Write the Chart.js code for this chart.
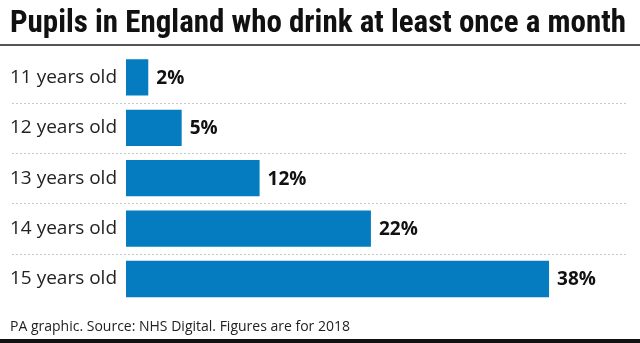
<!DOCTYPE html>
<html>
<head>
<meta charset="utf-8">
<script src="https://cdn.jsdelivr.net/npm/chart.js@4/dist/chart.umd.min.js"></script>
<style>
  html, body { margin: 0; padding: 0; background: #fff; }
  #wrap { width: 640px; height: 343px; position: relative; }
</style>
</head>
<body>
<div id="wrap"><canvas id="c" width="640" height="343"></canvas></div>
<script>
// Share of pupils drinking at least once a month, by age (2018)
const categories = ['11 years old', '12 years old', '13 years old', '14 years old', '15 years old'];
const values = [2, 5, 12, 22, 38];
const valueLabels = ['2%', '5%', '12%', '22%', '38%'];
const titleText = 'Pupils in England who drink at least once a month';
const footerText = 'PA graphic. Source: NHS Digital. Figures are for 2018';

const BLUE = '#047cbf';

// Rules under the title, above the footer edge, and dotted separators between rows
const decorations = {
  id: 'decorations',
  afterDraw(chart) {
    const ctx = chart.ctx;
    const y = chart.scales.y;
    const area = chart.chartArea;
    ctx.save();
    // title underline
    ctx.fillStyle = '#555';
    ctx.fillRect(0, 44, 640, 2);
    // bottom edge rule
    ctx.fillStyle = '#111';
    ctx.fillRect(0, 339, 640, 4);
    // dotted separators between categories
    ctx.strokeStyle = '#c8c8c8';
    ctx.lineWidth = 1;
    ctx.setLineDash([2, 2]);
    for (let i = 0; i < categories.length - 1; i++) {
      const yy = Math.round((y.getPixelForValue(i) + y.getPixelForValue(i + 1)) / 2) + 0.5;
      ctx.beginPath();
      ctx.moveTo(12, yy);
      ctx.lineTo(area.right, yy);
      ctx.stroke();
    }
    ctx.setLineDash([]);
    // value labels at the end of each bar
    const meta = chart.getDatasetMeta(0);
    ctx.font = 'bold 19px "Open Sans", sans-serif';
    ctx.fillStyle = '#111';
    ctx.textBaseline = 'middle';
    ctx.textAlign = 'left';
    meta.data.forEach((bar, i) => {
      ctx.fillText(valueLabels[i], bar.x + 8, bar.y + 1);
    });
    ctx.restore();
  }
};

new Chart(document.getElementById('c'), {
  type: 'bar',
  data: {
    labels: categories,
    datasets: [{
      data: values,
      backgroundColor: BLUE,
      borderWidth: 0,
      barPercentage: 0.72,
      categoryPercentage: 1
    }]
  },
  options: {
    indexAxis: 'y',
    responsive: false,
    animation: false,
    devicePixelRatio: 1,
    layout: { padding: { left: 10, right: 13, top: 0, bottom: 0 } },
    plugins: {
      legend: { display: false },
      tooltip: { enabled: false },
      title: {
        display: true,
        text: titleText,
        align: 'start',
        color: '#111',
        font: { family: '"Liberation Sans Narrow", "Roboto Condensed", Roboto, sans-serif', size: 31, weight: 'bold' },
        padding: { top: 6, bottom: 9 }
      },
      subtitle: {
        display: true,
        position: 'bottom',
        text: footerText,
        align: 'start',
        color: '#222',
        font: { family: '"Open Sans", sans-serif', size: 14 },
        padding: { top: 14, bottom: 8 }
      }
    },
    scales: {
      x: {
        display: false,
        min: 0,
        max: 45
      },
      y: {
        grid: { display: false, drawBorder: false },
        border: { display: false },
        ticks: {
          crossAlign: 'far',
          color: '#222',
          padding: 0,
          font: { family: '"Open Sans", sans-serif', size: 19 }
        },
        afterFit(scale) { scale.width = 116; }
      }
    }
  },
  plugins: [decorations]
});
</script>
</body>
</html>
